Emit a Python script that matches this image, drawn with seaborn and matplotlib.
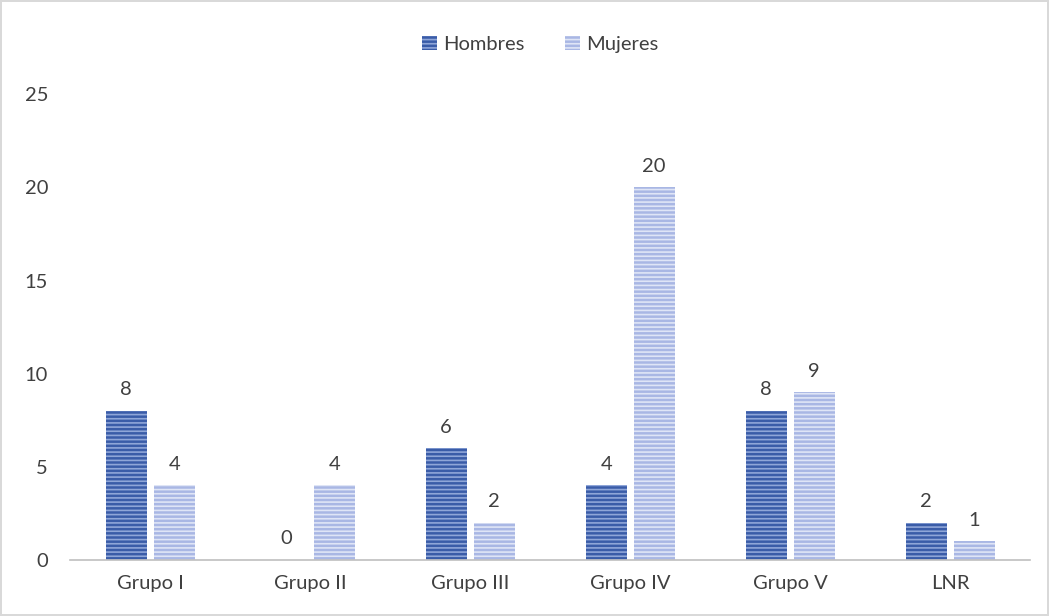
import pandas as pd
import matplotlib.pyplot as plt
import seaborn as sns
from matplotlib.patches import Patch

groups = ["Grupo I", "Grupo II", "Grupo III", "Grupo IV", "Grupo V", "LNR"]
hombres = [8, 0, 6, 4, 8, 2]
mujeres = [4, 4, 2, 20, 9, 1]
series = ["Hombres", "Mujeres"]

df = pd.DataFrame({
    "grupo": groups * 2,
    "sexo": ["Hombres"] * len(groups) + ["Mujeres"] * len(groups),
    "n": hombres + mujeres,
})

sns.set_style("white")
plt.rcParams["font.family"] = ["Lato", "DejaVu Sans"]
plt.rcParams["hatch.linewidth"] = 1.2

face = {"Hombres": "#3a5ca8", "Mujeres": "#a9b7e4"}
stripe = {"Hombres": "#8fa6d8", "Mujeres": "#dfe5f6"}
text_col = "#404040"
fs = 14.5

fig = plt.figure(figsize=(10.49, 6.16), dpi=100)
fig.patch.set_edgecolor("#d9d9d9")
fig.patch.set_linewidth(1.5)
ax = fig.add_axes([0.067, 0.091, 0.915, 0.756])

sns.barplot(data=df, x="grupo", y="n", hue="sexo", order=groups,
            hue_order=series, width=0.6, gap=0.15, ax=ax, legend=False)

for name, cont in zip(series, ax.containers):
    for bar in cont:
        bar.set_facecolor(face[name])
        bar.set_edgecolor(stripe[name])
        bar.set_hatch("----")
        bar.set_linewidth(0)
    ax.bar_label(cont, padding=9, fontsize=fs, color=text_col)

ax.set_ylim(0, 25)
ax.set_yticks(range(0, 26, 5))
ax.set_xlabel("")
ax.set_ylabel("")
ax.tick_params(axis="both", labelsize=fs, colors=text_col, length=0)
ax.tick_params(axis="x", pad=11)
ax.tick_params(axis="y", pad=16)
for side in ["top", "right", "left"]:
    ax.spines[side].set_visible(False)
ax.spines["bottom"].set_color("#bfbfbf")
ax.spines["bottom"].set_linewidth(1.2)

handles = [Patch(facecolor=face[s], edgecolor=stripe[s], hatch="----", linewidth=0, label=s)
           for s in series]
fig.legend(handles=handles, loc="center", bbox_to_anchor=(0.515, 0.928), ncol=2,
           frameon=False, fontsize=fs, handlelength=0.75, handleheight=0.75,
           handletextpad=0.3, columnspacing=2.0, labelcolor=text_col)

fig.savefig("out.png", dpi=100)
